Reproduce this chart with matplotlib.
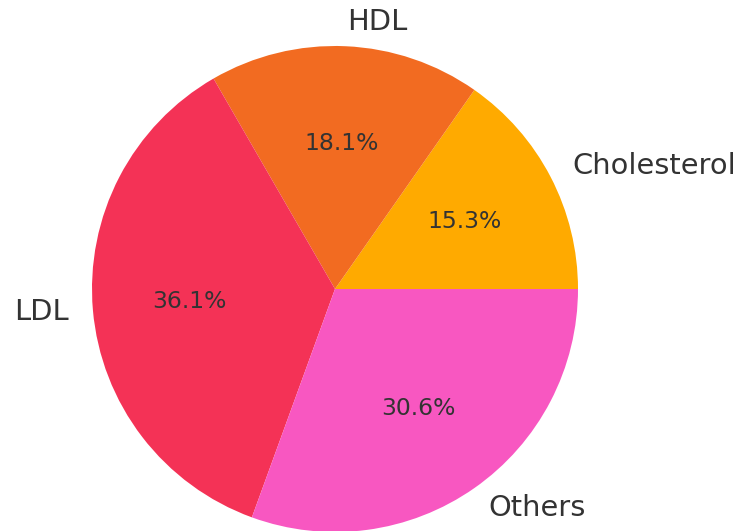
import matplotlib
matplotlib.use("Agg")
import matplotlib.pyplot as plt

labels = ["Cholesterol", "HDL", "LDL", "Others"]
values = [55, 65, 130, 110]
colors = ["#FFAA00", "#F26B21", "#F43256", "#F857C1"]

W, H, DPI = 739, 531, 100
fig = plt.figure(figsize=(W / DPI, H / DPI), dpi=DPI)
ax = fig.add_axes([0, 0, 1, 1])

wedges, texts, autotexts = ax.pie(
    values,
    labels=labels,
    colors=colors,
    autopct="%1.1f%%",
    startangle=0,
    counterclock=True,
    textprops={"color": "#333333"},
)
for t in texts:
    t.set_fontsize(20.8)
for t in autotexts:
    t.set_fontsize(16.9)

# place the pie: centre at (335, 289) px from top-left, radius 243 px
cx, cy, r = 335, 289, 243
ax.set_xlim(-cx / r, (W - cx) / r)
ax.set_ylim(-(H - cy) / r, cy / r)
ax.set_aspect("auto")
ax.axis("off")

fig.savefig("out.png", dpi=DPI)
